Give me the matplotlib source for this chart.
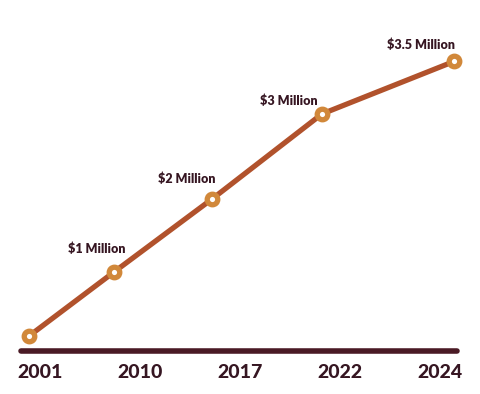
import matplotlib
matplotlib.use("Agg")
import matplotlib.pyplot as plt

# ---- data ----
years = ["2001", "2010", "2017", "2022", "2024"]
point_pos = [-0.11, 0.74, 1.72, 2.82, 4.14]      # horizontal position of each point (in year-label slots)
level = [0.0, 1.0, 2.14, 3.47, 4.29]             # plotted height of each point
value_labels = ["", "$1 Million", "$2 Million", "$3 Million", "$3.5 Million"]

# ---- styling ----
LINE = "#B1522C"
RING = "#D1883A"
TEXT = "#361622"
AXIS = "#4A1A25"
plt.rcParams["font.family"] = ["Lato", "DejaVu Sans"]

fig = plt.figure(figsize=(4.8, 3.94), dpi=100)
ax = fig.add_axes([0, 0, 1, 1])
ax.set_xlim(-0.40, 4.40)
ax.set_ylim(-0.906, 5.25)
ax.axis("off")

baseline = -0.234
ax.plot([-0.195, 4.175], [baseline, baseline], color=AXIS, lw=4.0,
        solid_capstyle="round", zorder=1)

ax.plot(point_pos, level, color=LINE, lw=3.8, zorder=2,
        solid_capstyle="round")
ax.plot(point_pos, level, linestyle="none", marker="o", ms=7.6, mew=3.8,
        mfc="white", mec=RING, zorder=3)

# value labels (offsets in pixels -> points)
offsets = [(0, 0), (-17, 23), (-25, 20), (-33, 13), (-33, 17)]
for x, y, lab, (dx, dy) in zip(point_pos, level, value_labels, offsets):
    if lab:
        ax.annotate(lab, xy=(x, y), xytext=(dx * 0.72, dy * 0.72),
                    textcoords="offset points", ha="center", va="center",
                    fontsize=9, fontweight="heavy", color=TEXT)

for i, yr in enumerate(years):
    ax.annotate(yr, xy=(i, baseline), xytext=(0, -22 * 0.72),
                textcoords="offset points", ha="center", va="center",
                fontsize=14, fontweight="black", color=TEXT)

fig.savefig("out.png", dpi=100)
